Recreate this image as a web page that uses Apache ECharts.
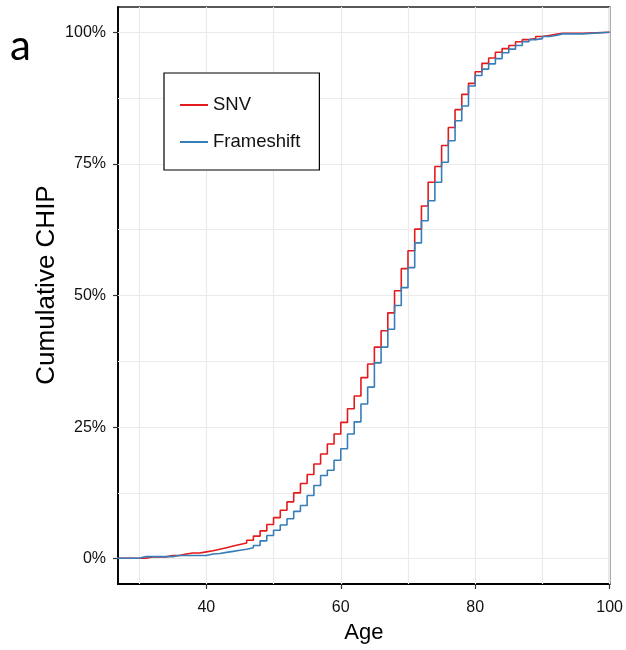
<!DOCTYPE html>
<html>
<head>
<meta charset="utf-8">
<script src="https://cdn.jsdelivr.net/npm/echarts@6/dist/echarts.min.js"></script>
<style>
html,body{margin:0;padding:0;background:#fff;}
#chart{width:626px;height:650px;}
</style>
</head>
<body>
<div id="chart"></div>
<script>
// ECDF step data: value (%) holds from each age until the next age
const ages = [26,27,28,29,30,31,32,33,34,35,36,37,38,39,40,41,42,43,44,45,46,47,48,49,50,51,52,53,54,55,56,57,58,59,60,61,62,63,64,65,66,67,68,69,70,71,72,73,74,75,76,77,78,79,80,81,82,83,84,85,86,87,88,89,90,91,92,93,94,95,96,100];
const snv = [0.1,0.1,0.1,0.1,0.1,0.35,0.35,0.35,0.6,0.6,0.9,1.1,1.1,1.3,1.5,1.8,2.1,2.4,2.7,3.0,3.5,4.3,5.3,6.5,7.8,9.2,10.8,12.5,14.3,16.0,18.0,19.9,21.8,23.7,25.9,28.5,30.9,34.4,37.0,40.2,43.3,46.7,50.9,55.1,58.5,62.6,67.0,71.5,74.5,78.5,81.9,85.3,88.2,90.3,92.5,94.1,95.1,96.2,96.9,97.5,98.2,98.6,98.8,99.2,99.4,99.6,99.8,99.8,99.8,99.8,100,100];
const frameshift = [0.1,0.1,0.1,0.1,0.4,0.4,0.4,0.4,0.4,0.6,0.6,0.6,0.6,0.6,0.9,1.0,1.2,1.4,1.6,1.8,2.1,2.5,3.4,4.4,5.4,6.4,7.6,9.0,10.1,12.0,13.9,15.8,16.8,18.7,20.9,23.7,26.0,29.4,32.6,37.2,40.2,43.6,48.1,51.5,55.3,60.0,64.2,68.0,71.5,75.3,79.4,83.2,86.0,89.8,91.8,93.0,94.0,95.0,96.1,96.8,97.5,98.2,98.6,98.8,99.2,99.4,99.7,99.7,99.7,99.7,100,100];
const xTicks = [40,60,80,100];
const xMinor = [30,50,70,90];
const yTicks = [0,25,50,75,100];
const yMinor = [12.5,37.5,62.5,87.5];
const seriesNames = ['SNV','Frameshift'];
const colors = ['#E41A1C','#377EB8'];

const chart = echarts.init(document.getElementById('chart'), null, {renderer:'canvas'});
const font = 'Liberation Sans, Arial, sans-serif';
const gridStyle = {color:'#EBEBEB', width:1.2, type:'solid'};
const gridLines = [];
xTicks.concat(xMinor).forEach(v => gridLines.push({xAxis:v}));
yTicks.concat(yMinor).forEach(v => gridLines.push({yAxis:v}));

chart.setOption({
  animation:false,
  backgroundColor:'#fff',
  grid:{left:118, top:7, width:494, height:577, show:true, borderColor:'#222', borderWidth:1.5, backgroundColor:'#fff', containLabel:false},
  xAxis:{
    type:'value', min:26.86, max:100,
    name:'Age', nameLocation:'middle', nameGap:38,
    nameTextStyle:{fontFamily:font, fontSize:22, color:'#000'},
    axisLine:{show:true, onZero:false, lineStyle:{color:'#000', width:1.8}},
    axisTick:{show:true, length:5, customValues:xTicks, lineStyle:{color:'#333', width:1.2}},
    axisLabel:{customValues:xTicks, fontFamily:font, fontSize:16, color:'#111', margin:16},
    splitLine:{show:false}
  },
  yAxis:{
    type:'value', min:-4.8, max:104.8,
    axisLine:{show:true, onZero:false, lineStyle:{color:'#000', width:1.8}},
    axisTick:{show:true, length:5, customValues:yTicks, lineStyle:{color:'#333', width:1.2}},
    axisLabel:{customValues:yTicks, formatter:v => Math.round(v)+'%', fontFamily:font, fontSize:16, color:'#111', margin:12, padding:[5,0,0,0]},
    splitLine:{show:false}
  },
  legend:{
    orient:'vertical', left:164, top:73,
    data:seriesNames.map(n => ({name:n, icon:'rect'})),
    itemWidth:28, itemHeight:2, itemGap:17,
    padding:[22,19,18,16],
    borderColor:'#000', borderWidth:1.2, backgroundColor:'#fff',
    textStyle:{fontFamily:font, fontSize:18.5, color:'#111', lineHeight:20}
  },
  graphic:[
    {type:'text', left:10, top:25, style:{text:'a', font:'42px Lato, sans-serif', fill:'#000'}},
    {type:'text', x:47, y:285, rotation:Math.PI/2, style:{text:'Cumulative CHIP', font:'26px Liberation Sans, Arial, sans-serif', fill:'#000', align:'center', verticalAlign:'middle'}}
  ],
  series:[
    {type:'line', name:'grid', data:[], silent:true, z:0,
     markLine:{silent:true, symbol:'none', z:1, label:{show:false}, lineStyle:gridStyle, emphasis:{disabled:true}, data:gridLines}},
    {type:'line', name:seriesNames[0], step:'end', symbol:'none', z:3,
     lineStyle:{color:colors[0], width:1.6}, itemStyle:{color:colors[0]},
     data:ages.map((a,i)=>[a, snv[i]])},
    {type:'line', name:seriesNames[1], step:'end', symbol:'none', z:4,
     lineStyle:{color:colors[1], width:1.6}, itemStyle:{color:colors[1]},
     data:ages.map((a,i)=>[a, frameshift[i]])}
  ]
});
</script>
</body>
</html>
